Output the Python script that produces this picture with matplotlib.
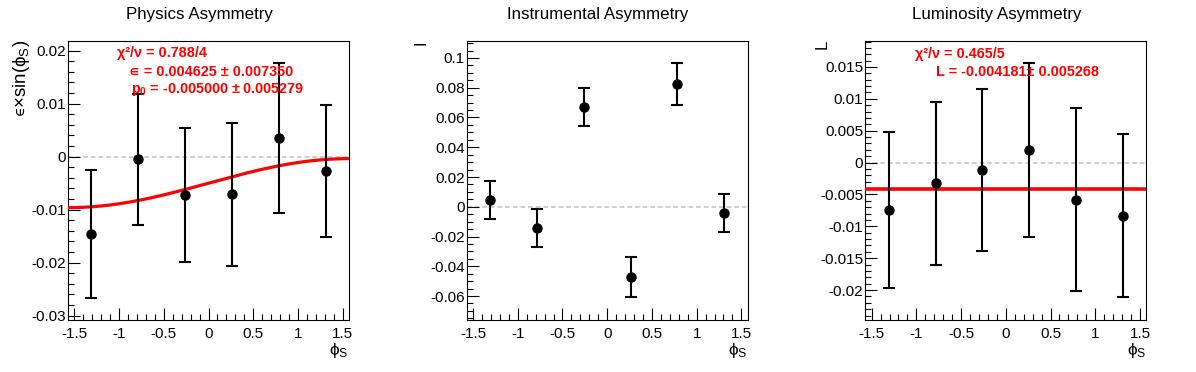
import numpy as np
import matplotlib
matplotlib.use('Agg')
import matplotlib.pyplot as plt
from matplotlib.ticker import MultipleLocator, FuncFormatter

plt.rcParams['font.family'] = ['Liberation Sans', 'DejaVu Sans']
plt.rcParams['axes.unicode_minus'] = False
plt.rcParams['mathtext.fontset'] = 'custom'
plt.rcParams['mathtext.rm'] = 'Liberation Sans'
plt.rcParams['mathtext.it'] = 'Liberation Sans:italic'
plt.rcParams['mathtext.bf'] = 'Liberation Sans:bold'
plt.rcParams['mathtext.fallback'] = 'stixsans'

# ---- data ----
phi_bins = [-1.309, -0.785, -0.262, 0.262, 0.785, 1.309]
phys_val = [-0.0146, -0.0005, -0.0072, -0.0071, 0.0035, -0.0027]
phys_err = [0.0121, 0.0124, 0.0127, 0.0135, 0.0142, 0.0125]
instr_val = [0.0045, -0.0140, 0.0671, -0.0472, 0.0827, -0.0040]
instr_err = [0.0125, 0.0128, 0.0127, 0.0134, 0.0142, 0.0128]
lumi_val = [-0.00745, -0.00325, -0.0011, 0.0020, -0.0058, -0.00835]
lumi_err = [0.0122, 0.0128, 0.0127, 0.0137, 0.0144, 0.0128]
fit_eps = 0.004625
fit_p0 = -0.005000
fit_L = -0.004181

titles = ['Physics Asymmetry', 'Instrumental Asymmetry', 'Luminosity Asymmetry']
ylabels = [r'$\mathrm{∊×sin(ϕ_{S})}$', 'I', 'L']
ylabel_sizes = [13.5, 12, 12]

W, H = 1196, 372
fig = plt.figure(figsize=(W / 100, H / 100), dpi=100)

def fx(px):
    return px / W

def fy(py):
    return 1 - py / H

XMIN, XMAX = -np.pi / 2, np.pi / 2
ax_left_px = [68, 466.7, 865.3]
ax_w_px = 281
ax_top_px, ax_bot_px = 41, 320.3
ylims = [(-0.03089, 0.02183), (-0.0763, 0.1114), (-0.02475, 0.01908)]
ymajor = [0.01, 0.02, 0.005]
yminor = [0.002, 0.005, 0.001]
ylabel_x_px = [21, 421, 822]

fmt = FuncFormatter(lambda v, p: ('%g' % round(v, 6)) if abs(v) > 1e-9 else '0')

datasets = [(phys_val, phys_err), (instr_val, instr_err), (lumi_val, lumi_err)]
axes = []
for i in range(3):
    l = ax_left_px[i]
    ax = fig.add_axes([fx(l), fy(ax_bot_px), ax_w_px / W, (ax_bot_px - ax_top_px) / H])
    axes.append(ax)
    ax.set_xlim(XMIN, XMAX)
    ax.set_ylim(*ylims[i])
    ax.xaxis.set_major_locator(MultipleLocator(0.5))
    ax.xaxis.set_minor_locator(MultipleLocator(0.1))
    ax.yaxis.set_major_locator(MultipleLocator(ymajor[i]))
    ax.yaxis.set_minor_locator(MultipleLocator(yminor[i]))
    ax.xaxis.set_major_formatter(fmt)
    ax.yaxis.set_major_formatter(fmt)
    ax.tick_params(which='both', direction='in', top=False, right=False, width=0.8, labelsize=11)
    ax.tick_params(which='major', length=8.5)
    ax.tick_params(which='minor', length=4.5)
    ax.tick_params(axis='x', which='major', pad=4.5)
    ax.tick_params(axis='y', which='major', pad=1.5)
    for s in ax.spines.values():
        s.set_linewidth(0.8)
    ax.plot([XMIN, XMAX], [0, 0], ls=(0, (3, 2)), color='#c0c0c0', lw=1.1, zorder=1)
    vals, errs = datasets[i]
    ax.errorbar(phi_bins, vals, yerr=errs, fmt='o', color='black', ms=6.5,
                elinewidth=1.5, capsize=4, capthick=1.5, zorder=4)
    # title
    fig.text(fx(W / 3 * (i + 0.5)), fy(15), titles[i], ha='center', va='center', fontsize=12.2)
    # x label
    fig.text(fx(l + ax_w_px), fy(341), r'$\mathrm{ϕ_{S}}$', ha='right', va='top', fontsize=12.5)
    # y label
    fig.text(fx(ylabel_x_px[i]), fy(ax_top_px - 1), ylabels[i], rotation=90, ha='center', va='top',
             fontsize=ylabel_sizes[i])

# fit curve in physics panel
xf = np.linspace(XMIN, XMAX, 200)
axes[0].plot(xf, fit_p0 + fit_eps * np.sin(xf), color='red', lw=2.3, zorder=3)
# constant fit in luminosity panel
axes[2].axhline(fit_L, color='red', lw=2.6, zorder=3)

red = dict(color='red', fontsize=10.4, fontweight='bold', ha='left', va='center', zorder=2)
fig.text(fx(117), fy(53), 'χ²/ν = 0.788/4', **red)
fig.text(fx(129), fy(71.5), '∊ = 0.004625 ± 0.007350', **red)
fig.text(fx(131), fy(89), r'p$_{\mathbf{0}}$ = -0.005000 ± 0.005279', **red)
fig.text(fx(915), fy(54), 'χ²/ν = 0.465/5', **red)
fig.text(fx(936), fy(71.5), 'L = -0.004181± 0.005268', **red)

fig.savefig('out.png', dpi=100)
